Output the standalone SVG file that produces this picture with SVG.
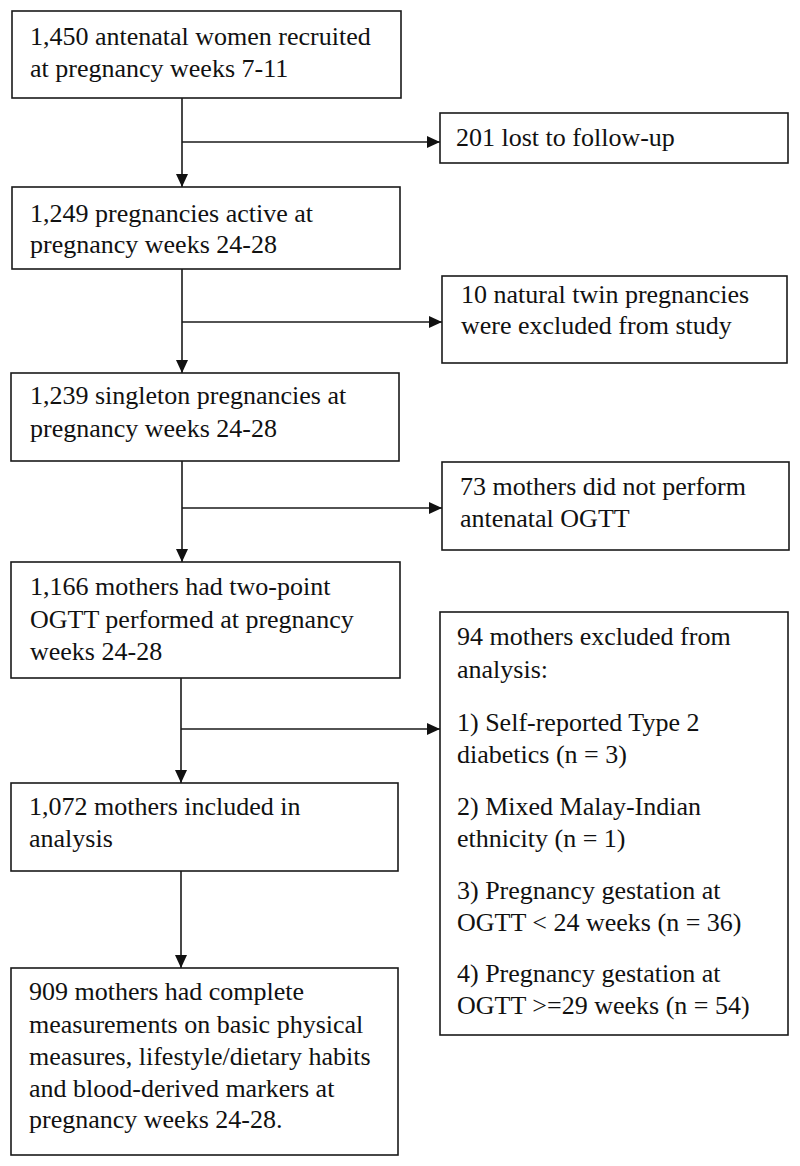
<svg xmlns="http://www.w3.org/2000/svg" width="800" height="1166" viewBox="0 0 800 1166">
<style>
.box{fill:#fff;stroke:#1a1a1a;stroke-width:1.6}
.t{font-family:"Liberation Serif","Times New Roman",serif;font-size:26px;fill:#111}
.c{stroke:#1a1a1a;stroke-width:1.6;fill:none}
</style>
<defs>
<marker id="ah" markerUnits="userSpaceOnUse" markerWidth="14" markerHeight="12" refX="13" refY="6" orient="auto">
<path d="M0,0 L13,6 L0,12 Z" fill="#111"/>
</marker>
</defs>
<rect width="800" height="1166" fill="#fff"/>
<g id="connectors">
<line class="c" x1="182" y1="98" x2="182" y2="187" marker-end="url(#ah)"/>
<line class="c" x1="182" y1="142" x2="440" y2="142" marker-end="url(#ah)"/>
<line class="c" x1="182" y1="269" x2="182" y2="373" marker-end="url(#ah)"/>
<line class="c" x1="182" y1="322" x2="442" y2="322" marker-end="url(#ah)"/>
<line class="c" x1="182" y1="461" x2="182" y2="562" marker-end="url(#ah)"/>
<line class="c" x1="182" y1="508" x2="442" y2="508" marker-end="url(#ah)"/>
<line class="c" x1="181" y1="678" x2="181" y2="783" marker-end="url(#ah)"/>
<line class="c" x1="181" y1="729" x2="440" y2="729" marker-end="url(#ah)"/>
<line class="c" x1="181" y1="871" x2="181" y2="968" marker-end="url(#ah)"/>
</g>
<g id="n1">
<rect class="box" x="12" y="11" width="389" height="87"/>
<text class="t" x="30" y="45">1,450 antenatal women recruited</text>
<text class="t" x="30" y="77">at pregnancy weeks 7-11</text>
</g>
<g id="n2">
<rect class="box" x="440" y="113" width="348" height="50"/>
<text class="t" x="456" y="146">201 lost to follow-up</text>
</g>
<g id="n3">
<rect class="box" x="12" y="187" width="388" height="82"/>
<text class="t" x="30" y="222">1,249 pregnancies active at</text>
<text class="t" x="30" y="253">pregnancy weeks 24-28</text>
</g>
<g id="n4">
<rect class="box" x="442" y="276" width="345" height="87"/>
<text class="t" x="461" y="303">10 natural twin pregnancies</text>
<text class="t" x="461" y="334">were excluded from study</text>
</g>
<g id="n5">
<rect class="box" x="11" y="373" width="388" height="88"/>
<text class="t" x="30" y="404">1,239 singleton pregnancies at</text>
<text class="t" x="30" y="437">pregnancy weeks 24-28</text>
</g>
<g id="n6">
<rect class="box" x="442" y="462" width="347" height="88"/>
<text class="t" x="460" y="495">73 mothers did not perform</text>
<text class="t" x="460" y="527">antenatal OGTT</text>
</g>
<g id="n7">
<rect class="box" x="11" y="562" width="389" height="116"/>
<text class="t" x="30" y="595">1,166 mothers had two-point</text>
<text class="t" x="30" y="628">OGTT performed at pregnancy</text>
<text class="t" x="30" y="660">weeks 24-28</text>
</g>
<g id="n8">
<rect class="box" x="440" y="612" width="348" height="423"/>
<text class="t" x="457" y="645">94 mothers excluded from</text>
<text class="t" x="457" y="678">analysis:</text>
<text class="t" x="457" y="731">1) Self-reported Type 2</text>
<text class="t" x="457" y="763">diabetics (n = 3)</text>
<text class="t" x="457" y="815">2) Mixed Malay-Indian</text>
<text class="t" x="457" y="847">ethnicity (n = 1)</text>
<text class="t" x="457" y="899">3) Pregnancy gestation at</text>
<text class="t" x="457" y="931">OGTT &lt; 24 weeks (n = 36)</text>
<text class="t" x="457" y="982">4) Pregnancy gestation at</text>
<text class="t" x="457" y="1014">OGTT &gt;=29 weeks (n = 54)</text>
</g>
<g id="n9">
<rect class="box" x="11" y="783" width="387" height="88"/>
<text class="t" x="29" y="815">1,072 mothers included in</text>
<text class="t" x="29" y="847">analysis</text>
</g>
<g id="n10">
<rect class="box" x="11" y="968" width="387" height="187"/>
<text class="t" x="29" y="1000">909 mothers had complete</text>
<text class="t" x="29" y="1033">measurements on basic physical</text>
<text class="t" x="29" y="1065">measures, lifestyle/dietary habits</text>
<text class="t" x="29" y="1097">and blood-derived markers at</text>
<text class="t" x="29" y="1128">pregnancy weeks 24-28.</text>
</g>
</svg>
